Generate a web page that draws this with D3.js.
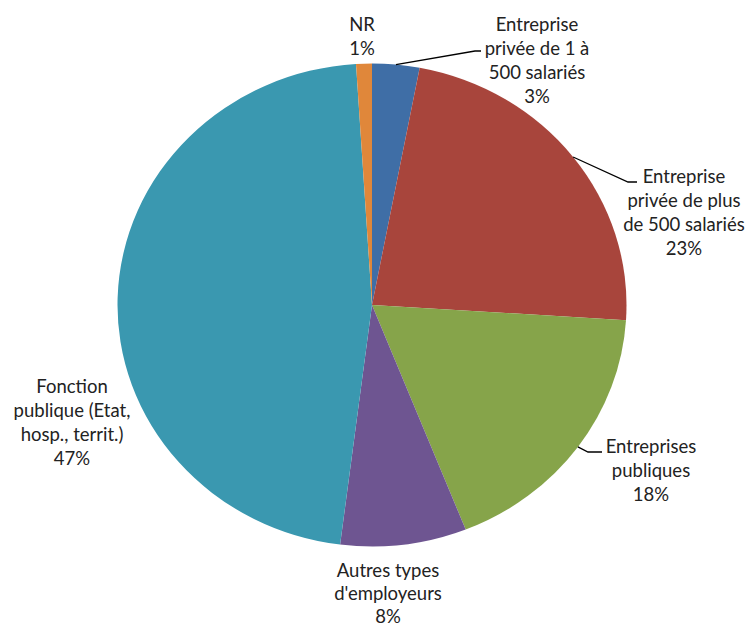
<!DOCTYPE html>
<html>
<head>
<meta charset="utf-8">
<script src="https://cdn.jsdelivr.net/npm/d3@7"></script>
<style>
  body { margin: 0; background: #fff; }
  text { font-family: Lato, "Open Sans", sans-serif; font-size: 18.5px; fill: #222; }
</style>
</head>
<body>
<div id="chart"></div>
<script>
// data
const categories = [
    "Entreprise privée de 1 à 500 salariés",
    "Entreprise privée de plus de 500 salariés",
    "Entreprises publiques",
    "Autres types d'employeurs",
    "Fonction publique (Etat, hosp., territ.)",
    "NR"
];
const values = [3, 23, 18, 8, 47, 1];
const labelLines = [
    ["Entreprise", "privée de 1 à", "500 salariés"],
    ["Entreprise", "privée de plus", "de 500 salariés"],
    ["Entreprises", "publiques"],
    ["Autres types", "d'employeurs"],
    ["Fonction", "publique (Etat,", "hosp., territ.)"],
    ["NR"]
];
const colors = ["#3F6EA6", "#A8453C", "#86A44A", "#6E5591", "#3A98B0", "#E0873A"];

// layout
let width = 746, height = 628;
let cx = 372, cy = 305, rx = 254.5, ry = 241.5;
let lineHeight = 24;

// label placement: centre x, first baseline, leader [bendX, bendY, endX]
let labelLayout = [
    { x: 537, y: 31, leader: [475, 51, 481] },
    { x: 684, y: 183, leader: [628, 182, 637] },
    { x: 651, y: 453, leader: [588, 452, 602] },
    { x: 388, y: 577, lh: 23 },
    { x: 72, y: 393 },
    { x: 362, y: 31 }
];

let svg = d3.select("#chart").append("svg")
    .attr("width", width)
    .attr("height", height);

let pie = d3.pie().sort(null).value(d => d);
let arcs = pie(values);
let total = d3.sum(values);
let pct = d3.format(".0%");

let arc = d3.arc().innerRadius(0).outerRadius(rx);

// pie is slightly flattened vertically in the original
svg.append("g")
    .attr("transform", "translate(" + cx + "," + cy + ") scale(1," + (ry / rx) + ")")
    .selectAll("path")
    .data(arcs)
    .join("path")
    .attr("d", arc)
    .attr("fill", (d, i) => colors[i]);

// leader lines
arcs.forEach((d, i) => {
    let lay = labelLayout[i];
    if (!lay.leader) return;
    let a = (d.startAngle + d.endAngle) / 2;
    let x0 = cx + rx * Math.sin(a);
    let y0 = cy - ry * Math.cos(a);
    svg.append("path")
        .attr("d", "M" + x0 + "," + y0 + "L" + lay.leader[0] + "," + lay.leader[1] + "L" + lay.leader[2] + "," + lay.leader[1])
        .attr("fill", "none")
        .attr("stroke", "#000")
        .attr("stroke-width", 1.3);
});

// labels
arcs.forEach((d, i) => {
    let lay = labelLayout[i];
    let lh = lay.lh || lineHeight;
    let lines = labelLines[i].concat([pct(values[i] / total)]);
    let t = svg.append("text")
        .attr("text-anchor", "middle")
        .attr("x", lay.x)
        .attr("y", lay.y);
    lines.forEach((s, k) => {
        t.append("tspan")
            .attr("x", lay.x)
            .attr("y", lay.y + k * lh)
            .text(s);
    });
});
</script>
</body>
</html>
